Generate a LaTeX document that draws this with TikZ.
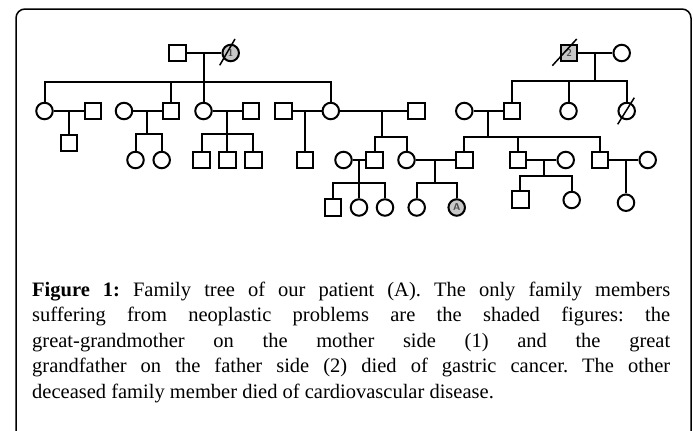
\documentclass[tikz,border=0pt]{standalone}
\usepackage{fontspec}
\setmainfont{Liberation Serif}
\frenchspacing
\begin{document}
\begin{tikzpicture}[x=1pt,y=-1pt,
  lw/.style={line width=2pt},
  male/.style={draw,lw,rectangle,minimum width=16.5pt,minimum height=16.5pt,inner sep=0pt,fill=white},
  fem/.style={draw,lw,circle,minimum size=16.5pt,inner sep=0pt,fill=white},
  aff/.style={fill=black!22},
  lbl/.style={font=\sffamily\bfseries\fontsize{10}{10}\selectfont,text=black!70},
  dead/.style={line width=1.5pt},
  link/.style={lw}]
\useasboundingbox (0,0) rectangle (694,431);
\clip (0,0) rectangle (694,431);
\fill[white] (0,0) rectangle (694,431);
\draw[line width=1.5pt,rounded corners=9pt] (16,9) rectangle (691,460);

% coordinates of sibship/drop points
\coordinate (s1) at (203.5,82);
\coordinate (s2) at (147,134);
\coordinate (s3) at (227.3,134);
\coordinate (s5) at (382.3,136.7);
\coordinate (s6) at (359,183.3);
\coordinate (s7) at (435,183.3);
\coordinate (s8) at (595,81);
\coordinate (s9) at (488.3,136.5);
\coordinate (s10) at (544,175.7);

% generation I
\node[male] (g1m) at (177.5,53) {};
\node[fem,aff] (g1f) at (230.7,53) {};
\node[lbl] (l1) at (g1f) {1};
\node[male,aff] (g2m) at (569,53) {};
\node[lbl] (l2) at (g2m) {2};
\node[fem] (g2f) at (621.7,53) {};

% generation II
\node[fem] (a1) at (44.5,111) {};
\node[male] (a1p) at (93,111) {};
\node[fem] (a2p) at (124,111) {};
\node[male] (a2) at (171,111) {};
\node[fem] (a3) at (203.5,111) {};
\node[male] (a3p) at (251,111) {};
\node[male] (a4p) at (283.7,111) {};
\node[fem] (a4) at (330.8,111) {};
\node[male] (a4q) at (416.7,111) {};
\node[fem] (r1p) at (464.3,111) {};
\node[male] (r1) at (512,111) {};
\node[fem] (r2) at (568.5,111) {};
\node[fem] (r3) at (626.7,111) {};

% generation III
\node[male] (c1) at (69,143) {};
\node[fem] (c2a) at (135.5,160) {};
\node[fem] (c2b) at (161.7,160) {};
\node[male] (c3a) at (201.7,160) {};
\node[male] (c3b) at (227.3,160) {};
\node[male] (c3c) at (253.3,160) {};
\node[male] (c4) at (305,160) {};
\node[fem] (b1p) at (343.5,160) {};
\node[male] (b1) at (374.7,160) {};
\node[fem] (b2) at (406.5,160) {};
\node[male] (b2p) at (464.3,160) {};
\node[male] (t2) at (518,160) {};
\node[fem] (t2p) at (565.7,160) {};
\node[male] (t3) at (600,160) {};
\node[fem] (t3p) at (647.7,160) {};

% generation IV
\node[male] (e1) at (332.8,207.5) {};
\node[fem] (e2) at (359,207.5) {};
\node[fem] (e3) at (385,207.5) {};
\node[fem] (e4) at (416.7,207.5) {};
\node[fem,aff] (eA) at (456.7,207.5) {};
\node[lbl] (lA) at (eA) {A};
\node[male] (f1) at (520.3,199.5) {};
\node[fem] (f2) at (571.7,200) {};
\node[fem] (f3) at (626,202.7) {};

% connectors
\begin{scope}[link]
\draw (g1m) -- (g1f);
\draw (s1 |- g1m) -- (s1);
\draw (a1) |- (s1) -| (a4);
\draw (a2) -- (a2 |- s1);
\draw (a3) -- (a3 |- s1);

\draw (a1) -- (a1p);
\draw (c1) -- (c1 |- a1);

\draw (a2p) -- (a2);
\draw (s2 |- a2) -- (s2);
\draw (c2a) |- (s2) -| (c2b);

\draw (a3) -- (a3p);
\draw (s3 |- a3) -- (s3);
\draw (c3a) |- (s3) -| (c3c);
\draw (c3b) -- (c3b |- s3);

\draw (a4p) -- (a4);
\draw (c4) -- (c4 |- a4);

\draw (a4) -- (a4q);
\draw (s5 |- a4) -- (s5);
\draw (b1) |- (s5) -| (b2);

\draw (b1p) -- (b1);
\draw (s6 |- b1) -- (s6);
\draw (e1) |- (s6) -| (e3);
\draw (e2) -- (e2 |- s6);

\draw (b2) -- (b2p);
\draw (s7 |- b2) -- (s7);
\draw (e4) |- (s7) -| (eA);

\draw (g2m) -- (g2f);
\draw (s8 |- g2m) -- (s8);
\draw (r1) |- (s8) -| (r3);
\draw (r2) -- (r2 |- s8);

\draw (r1p) -- (r1);
\draw (s9 |- r1) -- (s9);
\draw (b2p) |- (s9) -| (t3);
\draw (t2) -- (t2 |- s9);

\draw (t2) -- (t2p);
\draw (s10 |- t2) -- (s10);
\draw (f1) |- (s10) -| (f2);

\draw (t3) -- (t3p);
\draw (f3) -- (f3 |- t3);
\end{scope}

% deceased slashes
\draw[dead] ([shift={(-11,12.3)}]g1f.center) -- ([shift={(4.3,-14)}]g1f.center);
\draw[dead] ([shift={(-16.7,12.7)}]g2m.center) -- ([shift={(7.7,-14)}]g2m.center);
\draw[dead] ([shift={(-9,13.3)}]r3.center) -- ([shift={(7.6,-13.3)}]r3.center);

% caption
\node[anchor=north west,inner sep=0pt,text width=638pt,align=justify,
  font=\fontsize{20.5}{25.5}\selectfont] (cap) at (32,281.5)
{\textbf{Figure 1:} Family tree of our patient (A). The only family members\linebreak
suffering from neoplastic problems are the shaded figures: the\linebreak
great-grandmother on the mother side (1) and the great\linebreak
grandfather on the father side (2) died of gastric cancer. The other\linebreak
deceased family member died of cardiovascular disease.};
\end{tikzpicture}
\end{document}
